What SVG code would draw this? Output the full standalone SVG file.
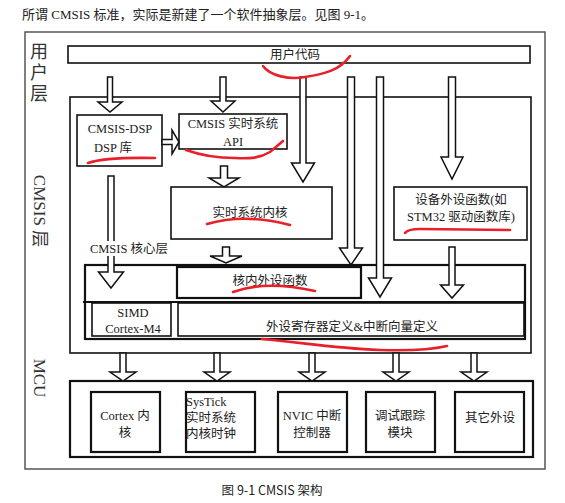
<svg xmlns="http://www.w3.org/2000/svg" width="565" height="503" viewBox="0 0 565 503">
<style>
.bx{fill:none;stroke:#111;stroke-width:1.6}
.bxt{fill:none;stroke:#111;stroke-width:2.2}
.arr{fill:#fff;stroke:#111;stroke-width:1.5;stroke-linejoin:miter}
.t{font-family:"Liberation Serif","Noto Sans CJK SC",serif;font-size:12.5px;fill:#222;text-anchor:middle}
.side{font-family:"Liberation Serif","Noto Sans CJK SC",serif;font-size:18px;fill:#333;text-anchor:middle;dominant-baseline:central}
.red{fill:none;stroke:#e8202a;stroke-width:2.6;stroke-linecap:round}
</style>
<rect width="565" height="503" fill="#fff"/>
<text x="22" y="19" style="font-family:'Liberation Serif','Noto Sans CJK SC',serif;font-size:13px;fill:#222">所谓 CMSIS 标准，实际是新建了一个软件抽象层。见图 9-1。</text>
<rect x="25" y="32" width="520" height="437" fill="none" stroke="#555" stroke-width="1.5"/>
<g id="layer-labels">
<text class="side" x="39" y="52">用</text>
<text class="side" x="39" y="73">户</text>
<text class="side" x="39" y="94">层</text>
<text class="side" transform="translate(39,211) rotate(90)" x="0" y="0" style="font-size:17px">CMSIS 层</text>
<text class="side" transform="translate(39,378) rotate(90)" x="0" y="0" style="font-size:17px">MCU</text>
</g>
<g id="user-code"><rect class="bx" x="68" y="46" width="462" height="17"/><text class="t" x="295" y="59">用户代码</text></g>
<g id="cmsis-layer"><rect class="bx" x="70" y="97" width="461" height="256"/></g>
<g id="dsp"><rect class="bx" x="77" y="115" width="85" height="51"/><text class="t" x="120" y="133">CMSIS-DSP</text><text class="t" x="113" y="152">DSP 库</text></g>
<g id="rtos-api"><rect class="bx" x="179" y="114" width="108" height="35"/><text class="t" x="233" y="128">CMSIS 实时系统</text><text class="t" x="233" y="146">API</text></g>
<g id="rtos-kernel"><rect class="bx" x="171" y="187" width="161" height="52"/><text class="t" x="250" y="217">实时系统内核</text></g>
<g id="device-periph"><rect class="bx" x="394" y="187" width="133" height="53"/><text class="t" x="461" y="204">设备外设函数(如</text><text class="t" x="461" y="221">STM32 驱动函数库)</text></g>
<g id="core-layer"><rect class="bxt" x="85" y="265" width="440" height="74"/><line x1="83" y1="302" x2="525" y2="302" stroke="#111" stroke-width="2"/></g>
<g id="core-periph"><rect class="bxt" x="177" y="267" width="184" height="31"/><text class="t" x="270" y="285">核内外设函数</text></g>
<g id="simd"><rect class="bx" x="92" y="303" width="79" height="33"/><text class="t" x="133" y="317">SIMD</text><text class="t" x="133" y="333">Cortex-M4</text></g>
<g id="periph-reg"><rect class="bx" x="178" y="303" width="346" height="33"/><text class="t" x="352" y="331">外设寄存器定义&amp;中断向量定义</text></g>
<g id="mcu"><rect class="bxt" x="70" y="381" width="463" height="76"/></g>
<g id="mcu-cortex"><rect class="bxt" x="91" y="392" width="69" height="60"/><text class="t" x="125" y="420">Cortex 内</text><text class="t" x="125" y="437">核</text></g>
<g id="mcu-systick"><rect class="bxt" x="186" y="392" width="69" height="60"/><text class="t" x="186" y="406" style="text-anchor:start">SysTick</text><text class="t" x="186" y="422" style="text-anchor:start">实时系统</text><text class="t" x="186" y="438" style="text-anchor:start">内核时钟</text></g>
<g id="mcu-nvic"><rect class="bxt" x="278" y="392" width="69" height="60"/><text class="t" x="312" y="420">NVIC 中断</text><text class="t" x="312" y="437">控制器</text></g>
<g id="mcu-debug"><rect class="bxt" x="366" y="392" width="69" height="60"/><text class="t" x="400" y="420">调试跟踪</text><text class="t" x="400" y="437">模块</text></g>
<g id="mcu-other"><rect class="bxt" x="455" y="392" width="69" height="60"/><text class="t" x="490" y="422">其它外设</text></g>
<g id="connectors">
<polygon class="arr" points="107.5,77 112.5,77 112.5,102 122,102 110,112 98,102 107.5,102"/>
<polygon class="arr" points="220,77 226,77 226,101 235,101 223,112 211,101 220,101"/>
<polygon class="arr" points="300,77 306,77 306,163 314.5,163 303,182 291.5,163 300,163"/>
<polygon class="arr" points="347.5,77 354.5,77 354.5,248 362.5,248 351,265 339.5,248 347.5,248"/>
<polygon class="arr" points="376.5,77 383.5,77 383.5,278 391.5,278 380,297 368.5,278 376.5,278"/>
<polygon class="arr" points="448.5,77 455.5,77 455.5,157 463,157 452,179 441,157 448.5,157"/>
<polygon class="arr" points="220.5,166 227.5,166 227.5,178 239,178 224,187 209,178 220.5,178"/>
<polygon class="arr" points="108,176 114,176 114,272 123.5,272 111,288 98.5,272 108,272"/>
<polygon class="arr" points="222.5,247 229.5,247 229.5,256 242,256 226,263 210,256 222.5,256"/>
<polygon class="arr" points="449,247 455,247 455,285 463.5,285 452,298 440.5,285 449,285"/>
<polygon class="arr" points="162,139.5 172,139.5 172,130 179,142 172,154 172,144.5 162,144.5"/>
<polygon class="arr" points="120,353 126,353 126,372 136,372 123,381 110,372 120,372"/>
<polygon class="arr" points="214,353 220,353 220,372 230,372 217,381 204,372 214,372"/>
<polygon class="arr" points="309,353 315,353 315,372 325,372 312,381 299,372 309,372"/>
<polygon class="arr" points="393,353 399,353 399,372 409,372 396,381 383,372 393,372"/>
<polygon class="arr" points="471,353 477,353 477,372 487,372 474,381 461,372 471,372"/>
</g>
<g id="core-label"><rect x="89" y="241" width="80" height="15" fill="#fff"/><text class="t" x="129" y="253">CMSIS 核心层</text></g>
<g id="annotations">
<path class="red" d="M263,66 C270,76 290,80 305,77 C325,74 340,70 350,56"/>
<path class="red" d="M88,163 Q105,157 155,158"/>
<path class="red" d="M186,150 C200,155 215,158 235,158 C250,159 260,158 270,152 L283,141"/>
<path class="red" d="M207,224 Q245,213 290,225"/>
<path class="red" d="M405,233 Q408,229 420,229 L510,230"/>
<path class="red" d="M233,292 Q265,280 315,291"/>
<path class="red" d="M262,339 C300,342 330,348 380,350 C410,351 430,350 447,346"/>
</g>
<text x="272" y="495" style="font-family:'Noto Sans CJK SC',sans-serif;font-size:12.5px;fill:#222;text-anchor:middle">图 9-1 CMSIS 架构</text>
</svg>
